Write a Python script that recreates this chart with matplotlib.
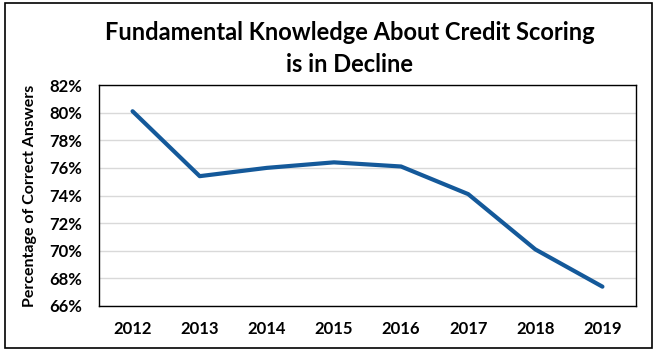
import matplotlib
matplotlib.use('Agg')
import matplotlib.pyplot as plt
from matplotlib.patches import Rectangle
from matplotlib.ticker import FuncFormatter

years = ['2012', '2013', '2014', '2015', '2016', '2017', '2018', '2019']
pct_correct = [80.1, 75.4, 76.0, 76.4, 76.1, 74.1, 70.1, 67.4]

plt.rcParams['font.family'] = ['Lato', 'DejaVu Sans']

W, H = 659, 356
fig = plt.figure(figsize=(W / 100, H / 100), dpi=100)

# outer chart border
fig.patches.append(Rectangle((5 / W, 1 - 348 / H), 647 / W, 345 / H,
                             transform=fig.transFigure, fill=False,
                             edgecolor='black', linewidth=1.2))

ax = fig.add_axes([99 / W, 1 - 306 / H, 537 / W, 221 / H])
x = range(len(years))
ax.plot(x, pct_correct, color='#14599A', linewidth=3.0,
        solid_capstyle='round', solid_joinstyle='round')

ax.set_xlim(-0.5, len(years) - 0.5)
ax.set_ylim(66, 82)
ax.set_yticks(range(66, 83, 2))
ax.yaxis.set_major_formatter(FuncFormatter(lambda v, p: f'{v:.0f}%'))
ax.set_xticks(list(x))
ax.set_xticklabels(years)

ax.grid(axis='y', color='#D9D9D9', linewidth=1)
ax.set_axisbelow(True)
ax.tick_params(length=0, labelsize=12, pad=11)
ax.tick_params(axis='y', pad=12)
for lab in ax.get_xticklabels() + ax.get_yticklabels():
    lab.set_fontweight('bold')
for s in ax.spines.values():
    s.set_color('black')
    s.set_linewidth(1.0)

ax.set_ylabel('Percentage of Correct Answers', fontsize=11.5,
              fontweight='bold', labelpad=9)

fig.text(350 / W, 1 - 33 / H, 'Fundamental Knowledge About Credit Scoring',
         ha='center', va='center', fontsize=17, fontweight='bold')
fig.text(350 / W, 1 - 64 / H, 'is in Decline',
         ha='center', va='center', fontsize=17, fontweight='bold')

fig.savefig('out.png', dpi=100)
